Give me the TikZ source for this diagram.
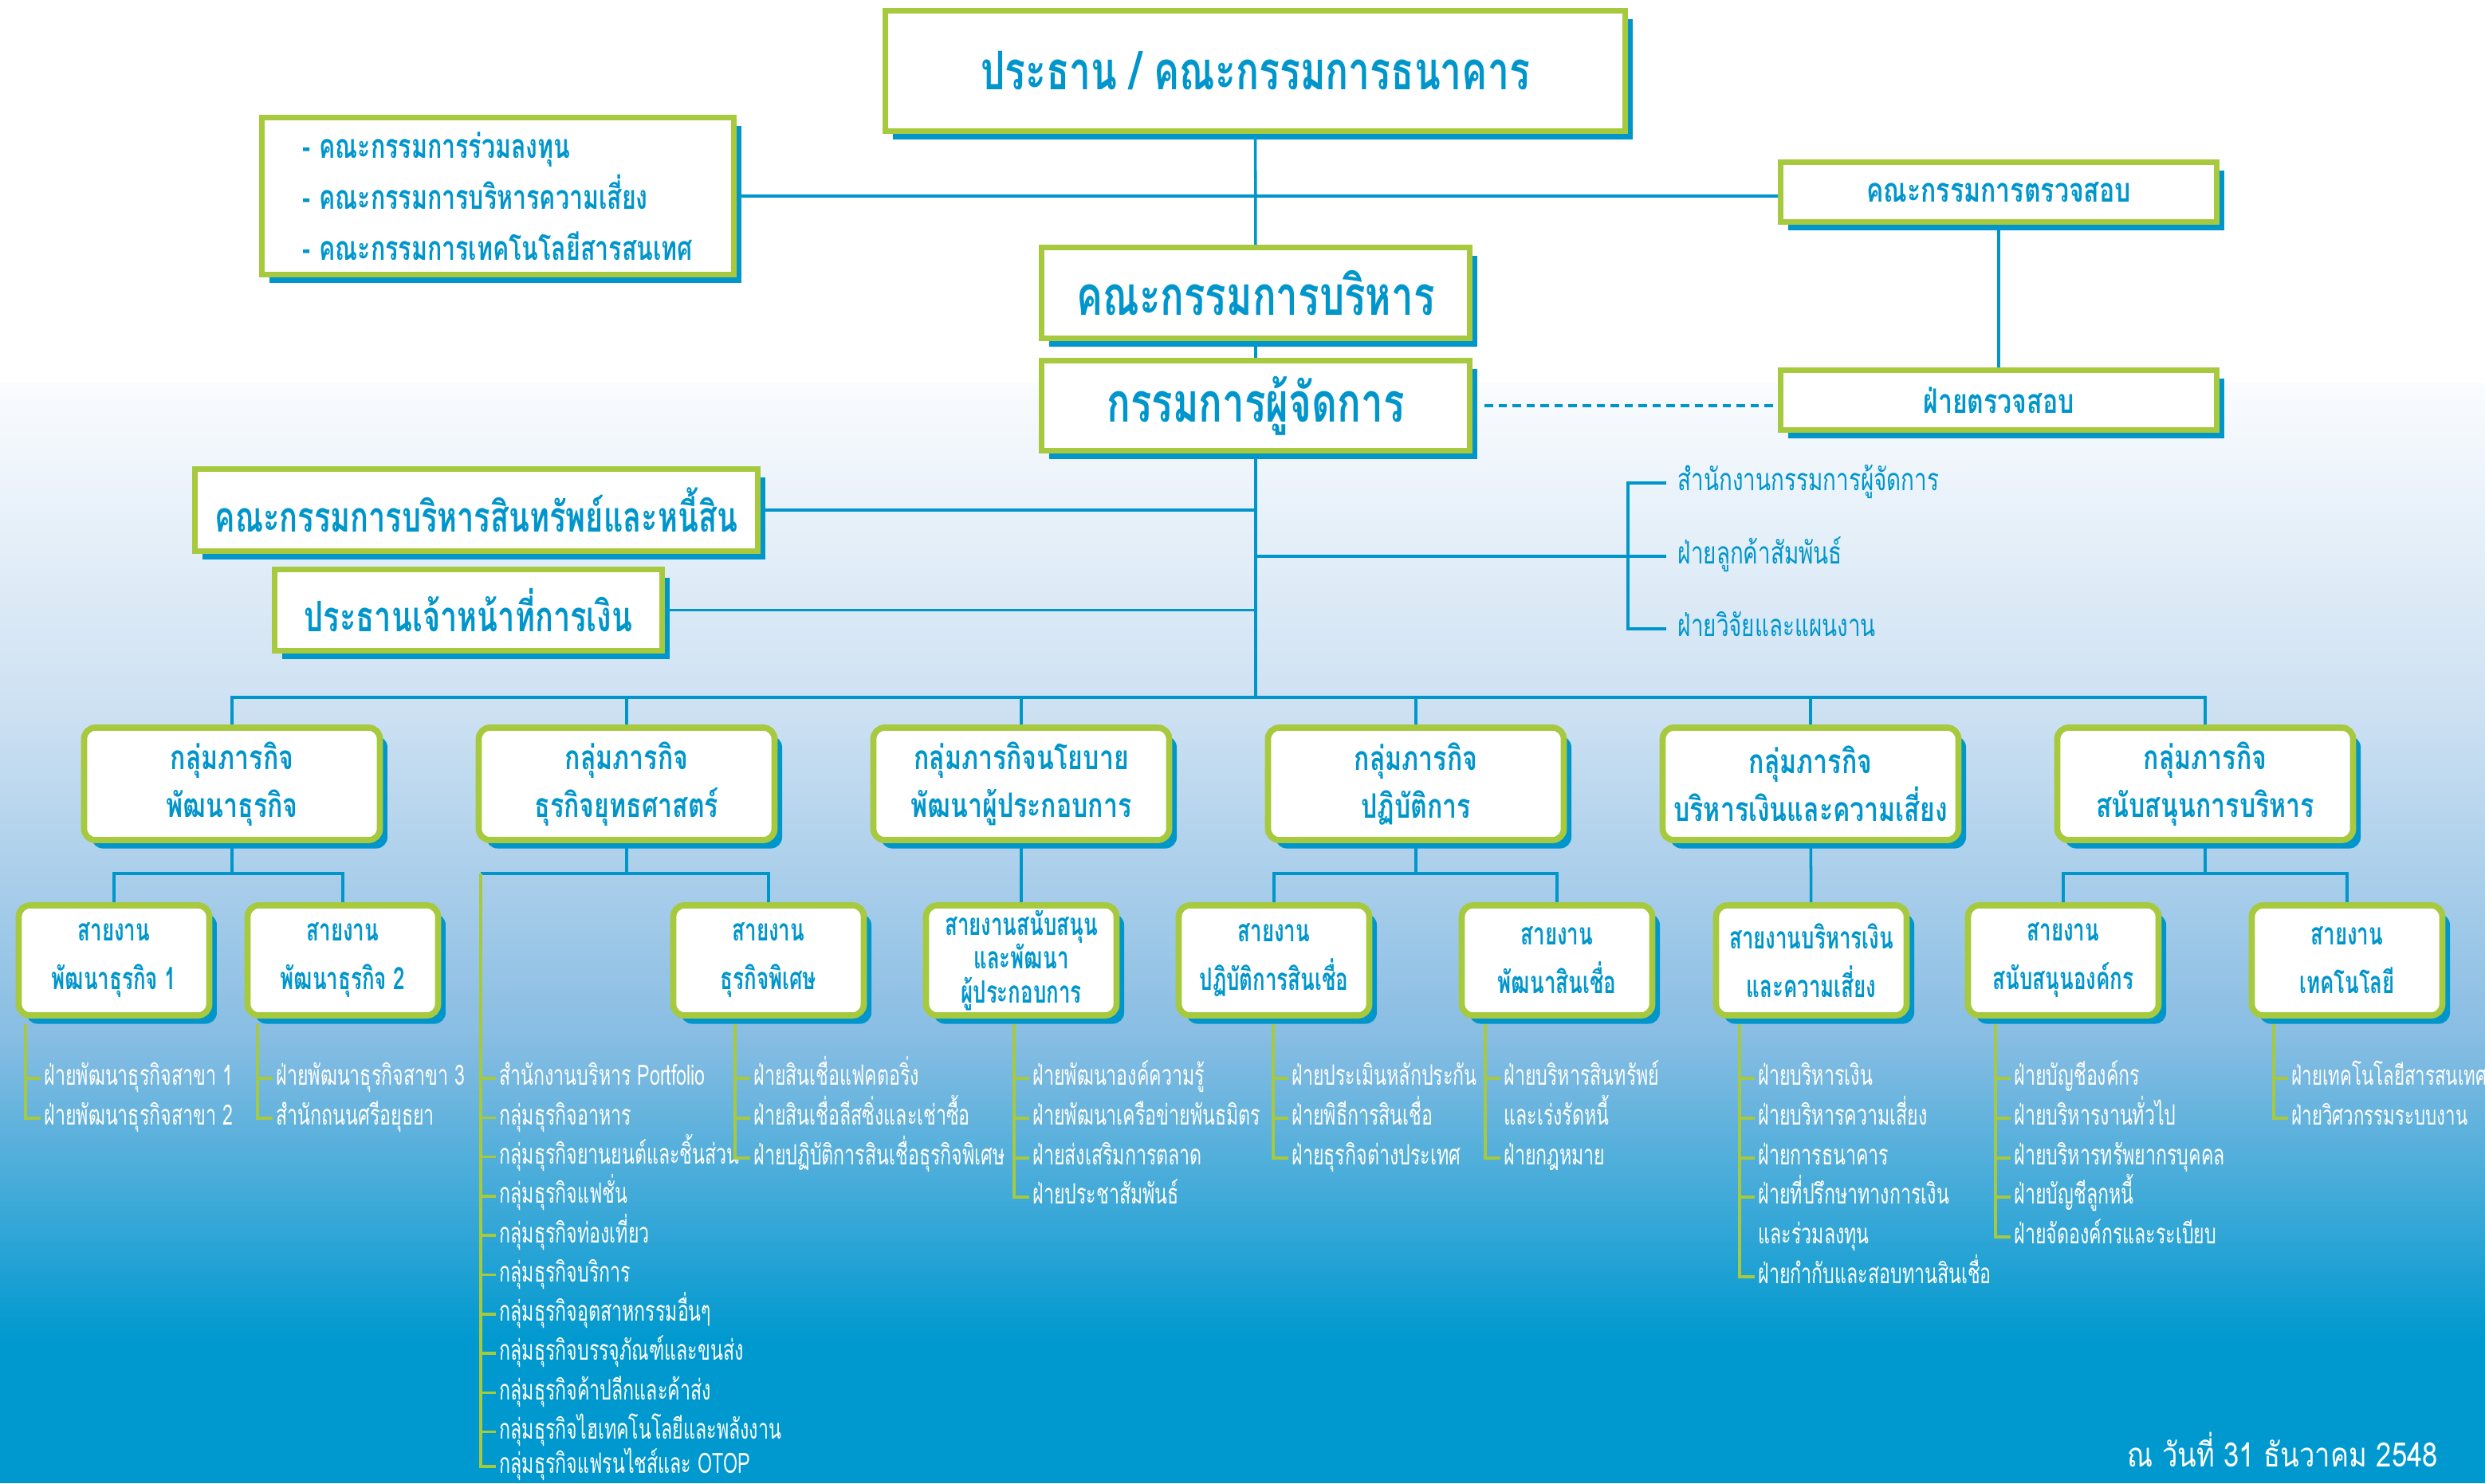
\documentclass[tikz,border=0pt]{standalone}
\usepackage{fontspec}
\newfontfamily\thaifont[Script=Thai, FakeStretch=0.72]{Loma}
\newfontfamily\grpfont[Script=Thai, FakeStretch=0.76]{Loma}
\newfontfamily\subfont[Script=Thai, FakeStretch=0.67]{Loma}
\newfontfamily\deptfont[Script=Thai, FakeStretch=0.66]{Loma}
\newfontfamily\datefont[Script=Thai, FakeStretch=0.82]{Loma}
\usetikzlibrary{shadows}
\definecolor{kblue}{RGB}{0,150,204}
\definecolor{kgreen}{RGB}{166,201,62}
\definecolor{bgA}{RGB}{250,252,254}
\definecolor{bgB}{RGB}{204,224,242}
\definecolor{bgC}{RGB}{136,189,227}
\definecolor{bgD}{RGB}{0,153,207}
\pgfdeclarelayer{bg}
\pgfdeclarelayer{back}
\pgfsetlayers{bg,back,main}

\begin{document}
\begin{tikzpicture}[
  topbox/.style={draw=kgreen, line width=2pt, fill=white, text=kblue, inner sep=0pt, align=center,
    drop shadow={shadow xshift=2.7pt, shadow yshift=-3pt, fill=kblue, opacity=1}},
  grpbox/.style={topbox, line width=2.2pt, rounded corners=4pt, minimum width=3.71cm,
    minimum height=1.41cm, font=\grpfont\bfseries\fontsize{12}{17}\selectfont},
  subbox/.style={grpbox, minimum width=2.39cm, minimum height=1.38cm,
    font=\subfont\bfseries\fontsize{11}{17.4}\selectfont},
  conn/.style={kblue, line width=1pt},
  brk/.style={kgreen, line width=1pt},
  dept/.style={anchor=west, text=white, inner xsep=1.1pt, inner ysep=0pt, text height=5pt,
    text depth=0pt, font=\deptfont\fontsize{10}{12}\selectfont},
  mdlist/.style={dept, text=kblue, inner xsep=4pt, text height=5.5pt,
    font=\thaifont\fontsize{11}{13}\selectfont}
]
  \useasboundingbox (0,0) rectangle (31.17,-18.61);

  % background
  \begin{pgfonlayer}{bg}
    \fill[white] (0,0) rectangle (31.17,-4.82);
    \shade[top color=bgA, bottom color=bgB] (0,-4.8) rectangle (31.17,-9.01);
    \shade[top color=bgB, bottom color=bgC] (0,-9.0) rectangle (31.17,-13.01);
    \shade[top color=bgC, bottom color=bgD] (0,-13.0) rectangle (31.17,-16.81);
    \fill[bgD] (0,-16.8) rectangle (31.17,-18.61);
  \end{pgfonlayer}

  % board and committees
  \node[topbox, minimum width=9.28cm, minimum height=1.51cm, font=\thaifont\bfseries\fontsize{19}{22}\selectfont] (board) at (15.745,-0.89) {ประธาน / คณะกรรมการธนาคาร};
  \node[topbox, align=left, minimum width=5.92cm, minimum height=1.97cm, font=\thaifont\bfseries\fontsize{12}{18.2}\selectfont] (comm) at (6.245,-2.46)
    {- คณะกรรมการร่วมลงทุน\\- คณะกรรมการบริหารความเสี่ยง\\- คณะกรรมการเทคโนโลยีสารสนเทศ};
  \node[topbox, minimum width=5.37cm, minimum height=1.14cm, font=\thaifont\bfseries\fontsize{19.5}{21}\selectfont] (exec) at (15.75,-3.675) {คณะกรรมการบริหาร};
  \node[topbox, minimum width=5.37cm, minimum height=1.13cm, font=\thaifont\bfseries\fontsize{19.5}{21}\selectfont] (pres) at (15.75,-5.09) {กรรมการผู้จัดการ};
  \node[topbox, minimum width=5.47cm, minimum height=0.75cm, font=\grpfont\bfseries\fontsize{12}{14}\selectfont] (audc) at (25.07,-2.41) {คณะกรรมการตรวจสอบ};
  \node[topbox, minimum width=5.47cm, minimum height=0.75cm, font=\grpfont\bfseries\fontsize{12}{14}\selectfont] (audd) at (25.07,-5.02) {ฝ่ายตรวจสอบ};
  \node[topbox, minimum width=7.06cm, minimum height=1.03cm, font=\thaifont\bfseries\fontsize{15}{17}\selectfont] (alco) at (5.975,-6.40) {คณะกรรมการบริหารสินทรัพย์และหนี้สิน};
  \node[topbox, minimum width=4.86cm, minimum height=1.02cm, font=\thaifont\bfseries\fontsize{15}{17}\selectfont] (cfo) at (5.875,-7.655) {ประธานเจ้าหน้าที่การเงิน};

  % offices under the president
  \node[mdlist] (md1) at (20.90,-6.06) {สำนักงานกรรมการผู้จัดการ};
  \node[mdlist] (md2) at (20.90,-6.98) {ฝ่ายลูกค้าสัมพันธ์};
  \node[mdlist] (md3) at (20.90,-7.89) {ฝ่ายวิจัยและแผนงาน};
  \coordinate (mdb) at (20.42,-6.06);

  % groups
  \node[grpbox] (g1) at (2.91,-9.835) {กลุ่มภารกิจ\\พัฒนาธุรกิจ};
  \node[grpbox] (g2) at (7.86,-9.835) {กลุ่มภารกิจ\\ธุรกิจยุทธศาสตร์};
  \node[grpbox] (g3) at (12.81,-9.835) {กลุ่มภารกิจนโยบาย\\พัฒนาผู้ประกอบการ};
  \node[grpbox] (g4) at (17.76,-9.835) {กลุ่มภารกิจ\\ปฏิบัติการ};
  \node[grpbox] (g5) at (22.71,-9.835) {กลุ่มภารกิจ\\บริหารเงินและความเสี่ยง};
  \node[grpbox] (g6) at (27.66,-9.835) {กลุ่มภารกิจ\\สนับสนุนการบริหาร};
  \coordinate (bus) at (15.75,-8.75);

  % lines of business
  \node[subbox] (s1) at (1.43,-12.05) {สายงาน\\พัฒนาธุรกิจ 1};
  \node[subbox] (s2) at (4.30,-12.05) {สายงาน\\พัฒนาธุรกิจ 2};
  \node[subbox] (s3) at (9.64,-12.05) {สายงาน\\ธุรกิจพิเศษ};
  \node[subbox, font=\subfont\bfseries\fontsize{11}{12}\selectfont] (s4) at (12.81,-12.05) {สายงานสนับสนุน\\และพัฒนา\\ผู้ประกอบการ};
  \node[subbox] (s5) at (15.98,-12.05) {สายงาน\\ปฏิบัติการสินเชื่อ};
  \node[subbox] (s6) at (19.53,-12.05) {สายงาน\\พัฒนาสินเชื่อ};
  \node[subbox] (s7) at (22.72,-12.05) {สายงานบริหารเงิน\\และความเสี่ยง};
  \node[subbox] (s8) at (25.88,-12.05) {สายงาน\\สนับสนุนองค์กร};
  \node[subbox] (s9) at (29.44,-12.05) {สายงาน\\เทคโนโลยี};
  \coordinate (j1) at (2.91,-10.96);
  \coordinate (j2) at (7.86,-10.96);
  \coordinate (j4) at (17.76,-10.96);
  \coordinate (j6) at (27.66,-10.96);

  % departments
  \coordinate (c1) at (0.32,-12.85);
  \node[dept] (d11) at (0.51,-13.53) {ฝ่ายพัฒนาธุรกิจสาขา 1};
  \node[dept] (d12) at (0.51,-14.03) {ฝ่ายพัฒนาธุรกิจสาขา 2};
  \coordinate (c2) at (3.23,-12.85);
  \node[dept] (d21) at (3.42,-13.53) {ฝ่ายพัฒนาธุรกิจสาขา 3};
  \node[dept] (d22) at (3.42,-14.03) {สำนักถนนศรีอยุธยา};
  \coordinate (c3) at (6.03,-10.96);
  \node[dept] (d31) at (6.22,-13.53) {สำนักงานบริหาร Portfolio};
  \node[dept] (d32) at (6.22,-14.023) {กลุ่มธุรกิจอาหาร};
  \node[dept] (d33) at (6.22,-14.516) {กลุ่มธุรกิจยานยนต์และชิ้นส่วน};
  \node[dept] (d34) at (6.22,-15.009) {กลุ่มธุรกิจแฟชั่น};
  \node[dept] (d35) at (6.22,-15.502) {กลุ่มธุรกิจท่องเที่ยว};
  \node[dept] (d36) at (6.22,-15.995) {กลุ่มธุรกิจบริการ};
  \node[dept] (d37) at (6.22,-16.488) {กลุ่มธุรกิจอุตสาหกรรมอื่นๆ};
  \node[dept] (d38) at (6.22,-16.981) {กลุ่มธุรกิจบรรจุภัณฑ์และขนส่ง};
  \node[dept] (d39) at (6.22,-17.474) {กลุ่มธุรกิจค้าปลีกและค้าส่ง};
  \node[dept] (d310) at (6.22,-17.967) {กลุ่มธุรกิจไฮเทคโนโลยีและพลังงาน};
  \node[dept] (d311) at (6.22,-18.40) {กลุ่มธุรกิจแฟรนไชส์และ OTOP};
  \coordinate (c4) at (9.22,-12.85);
  \node[dept] (d41) at (9.41,-13.53) {ฝ่ายสินเชื่อแฟคตอริ่ง};
  \node[dept] (d42) at (9.41,-14.03) {ฝ่ายสินเชื่อลีสซิ่งและเช่าซื้อ};
  \node[dept] (d43) at (9.41,-14.53) {ฝ่ายปฏิบัติการสินเชื่อธุรกิจพิเศษ};
  \coordinate (c5) at (12.72,-12.85);
  \node[dept] (d51) at (12.91,-13.53) {ฝ่ายพัฒนาองค์ความรู้};
  \node[dept] (d52) at (12.91,-14.03) {ฝ่ายพัฒนาเครือข่ายพันธมิตร};
  \node[dept] (d53) at (12.91,-14.53) {ฝ่ายส่งเสริมการตลาด};
  \node[dept] (d54) at (12.91,-15.02) {ฝ่ายประชาสัมพันธ์};
  \coordinate (c6) at (15.97,-12.85);
  \node[dept] (d61) at (16.16,-13.53) {ฝ่ายประเมินหลักประกัน};
  \node[dept] (d62) at (16.16,-14.03) {ฝ่ายพิธีการสินเชื่อ};
  \node[dept] (d63) at (16.16,-14.53) {ฝ่ายธุรกิจต่างประเทศ};
  \coordinate (c7) at (18.63,-12.85);
  \node[dept] (d71) at (18.82,-13.53) {ฝ่ายบริหารสินทรัพย์};
  \node[dept] (d71b) at (18.82,-14.03) {และเร่งรัดหนี้};
  \node[dept] (d72) at (18.82,-14.53) {ฝ่ายกฎหมาย};
  \coordinate (c8) at (21.82,-12.85);
  \node[dept] (d81) at (22.01,-13.53) {ฝ่ายบริหารเงิน};
  \node[dept] (d82) at (22.01,-14.03) {ฝ่ายบริหารความเสี่ยง};
  \node[dept] (d83) at (22.01,-14.53) {ฝ่ายการธนาคาร};
  \node[dept] (d84) at (22.01,-15.02) {ฝ่ายที่ปรึกษาทางการเงิน};
  \node[dept] (d84b) at (22.01,-15.52) {และร่วมลงทุน};
  \node[dept] (d85) at (22.01,-16.02) {ฝ่ายกำกับและสอบทานสินเชื่อ};
  \coordinate (c9) at (25.03,-12.85);
  \node[dept] (d91) at (25.22,-13.53) {ฝ่ายบัญชีองค์กร};
  \node[dept] (d92) at (25.22,-14.03) {ฝ่ายบริหารงานทั่วไป};
  \node[dept] (d93) at (25.22,-14.53) {ฝ่ายบริหารทรัพยากรบุคคล};
  \node[dept] (d94) at (25.22,-15.02) {ฝ่ายบัญชีลูกหนี้};
  \node[dept] (d95) at (25.22,-15.52) {ฝ่ายจัดองค์กรและระเบียบ};
  \coordinate (c10) at (28.52,-12.85);
  \node[dept, font=\deptfont\fontsize{9.6}{12}\selectfont] (d101) at (28.70,-13.53) {ฝ่ายเทคโนโลยีสารสนเทศ};
  \node[dept, font=\deptfont\fontsize{9.6}{12}\selectfont] (d102) at (28.70,-14.03) {ฝ่ายวิศวกรรมระบบงาน};

  \node[anchor=base, text=white, font=\datefont\fontsize{12}{14}\selectfont] (asof) at (28.63,-18.40) {ณ วันที่ 31 ธันวาคม 2548};

  % connectors
  \begin{pgfonlayer}{back}
    \draw[conn] (board) -- (exec);
    \draw[conn] (exec) -- (pres);
    \draw[conn] (pres) -- (bus);
    \draw[conn] (comm.east) -- (comm.east -| audc.west);
    \draw[conn] (audc) -- (audd);
    \draw[conn, dash pattern=on 3pt off 2pt, shorten <=0.15cm] (pres.east) -- (pres.east -| audd.west);
    \draw[conn] (alco.east) -- (alco.east -| pres.south);
    \draw[conn] (cfo.east) -- (cfo.east -| pres.south);
    \draw[conn] (md1.west) -- (mdb) |- (md3.west);
    \draw[conn] (pres.south |- md2.west) -- (md2.west);
    \draw[conn] (g1.north) |- (bus) -| (g6.north);
    \draw[conn] (g2.north) -- (g2.north |- bus);
    \draw[conn] (g3.north) -- (g3.north |- bus);
    \draw[conn] (g4.north) -- (g4.north |- bus);
    \draw[conn] (g5.north) -- (g5.north |- bus);
    \draw[conn] (g1) -- (j1);
    \draw[conn] (s1.north) |- (j1) -| (s2.north);
    \draw[conn] (g2) -- (j2);
    \draw[conn] (c3) -- (j2) -| (s3.north);
    \draw[conn] (g3) -- (s4);
    \draw[conn] (g4) -- (j4);
    \draw[conn] (s5.north) |- (j4) -| (s6.north);
    \draw[conn] (g5) -- (s7);
    \draw[conn] (g6) -- (j6);
    \draw[conn] (s8.north) |- (j6) -| (s9.north);
  \end{pgfonlayer}
  \draw[brk] (c1) |- (d11.west) (c1) |- (d12.west);
  \draw[brk] (c2) |- (d21.west) (c2) |- (d22.west);
  \draw[brk] (c3) |- (d31.west) (c3) |- (d32.west) (c3) |- (d33.west) (c3) |- (d34.west)
    (c3) |- (d35.west) (c3) |- (d36.west) (c3) |- (d37.west) (c3) |- (d38.west)
    (c3) |- (d39.west) (c3) |- (d310.west) (c3) |- (d311.west);
  \draw[brk] (c4) |- (d41.west) (c4) |- (d42.west) (c4) |- (d43.west);
  \draw[brk] (c5) |- (d51.west) (c5) |- (d52.west) (c5) |- (d53.west) (c5) |- (d54.west);
  \draw[brk] (c6) |- (d61.west) (c6) |- (d62.west) (c6) |- (d63.west);
  \draw[brk] (c7) |- (d71.west) (c7) |- (d72.west);
  \draw[brk] (c8) |- (d81.west) (c8) |- (d82.west) (c8) |- (d83.west) (c8) |- (d84.west) (c8) |- (d85.west);
  \draw[brk] (c9) |- (d91.west) (c9) |- (d92.west) (c9) |- (d93.west) (c9) |- (d94.west) (c9) |- (d95.west);
  \draw[brk] (c10) |- (d101.west) (c10) |- (d102.west);
\end{tikzpicture}
\end{document}
